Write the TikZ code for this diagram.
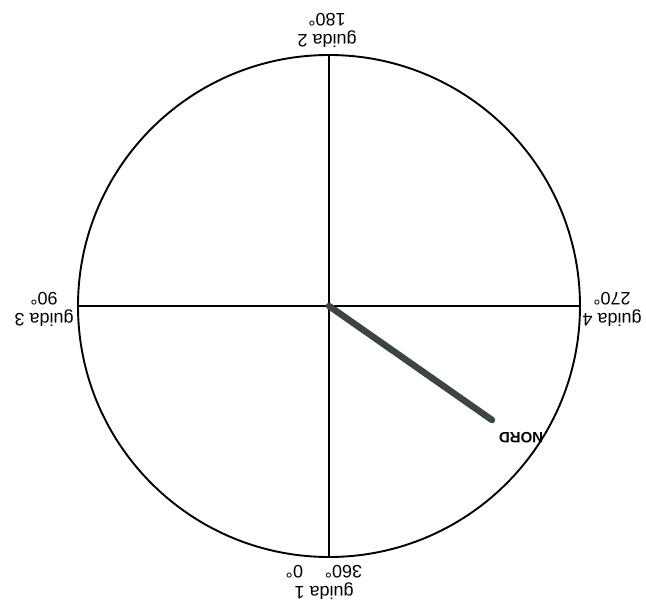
\documentclass[tikz,border=0pt]{standalone}
\usepackage{fontspec}
\setmainfont{Liberation Sans}
\usepackage{xcolor}
\usepackage{tikz}
\usetikzlibrary{positioning}

\definecolor{needlegray}{RGB}{60,68,68}

\begin{document}
\begin{tikzpicture}[
    x=1pt, y=-1pt,
    guide/.style={line width=1.9pt},
    guidelabel/.style={rotate=180, align=center, inner sep=0pt, font=\fontsize{18}{21}\selectfont},
    needle/.style={line width=6.5pt, line cap=round, draw=needlegray}
]
\useasboundingbox (0,0) rectangle (646,604);

\coordinate (c) at (329,306);
\coordinate (g1) at (329,557);
\coordinate (g2) at (329,55);
\coordinate (g3) at (78,306);
\coordinate (g4) at (580,306);
\coordinate (tip) at (492,420);

\draw[guide] (c) circle (251);
\draw[guide] (g2) -- (g1);
\draw[guide] (g3) -- (g4);
\draw[needle] (c) -- (tip);

\node[guidelabel] (lab2) at (327,30) {guida 2\\180°};
\node[guidelabel] (lab1) at (324,582) {guida 1\\360°\hspace{22pt}0°};
\node[guidelabel] (lab3) at (44,309) {guida 3\\90°};
\node[guidelabel] (lab4) at (612,309) {guida 4\\270°};
\node[guidelabel, font=\fontsize{15}{18}\selectfont\bfseries] (nord) at (521,438) {NORD};
\end{tikzpicture}
\end{document}
